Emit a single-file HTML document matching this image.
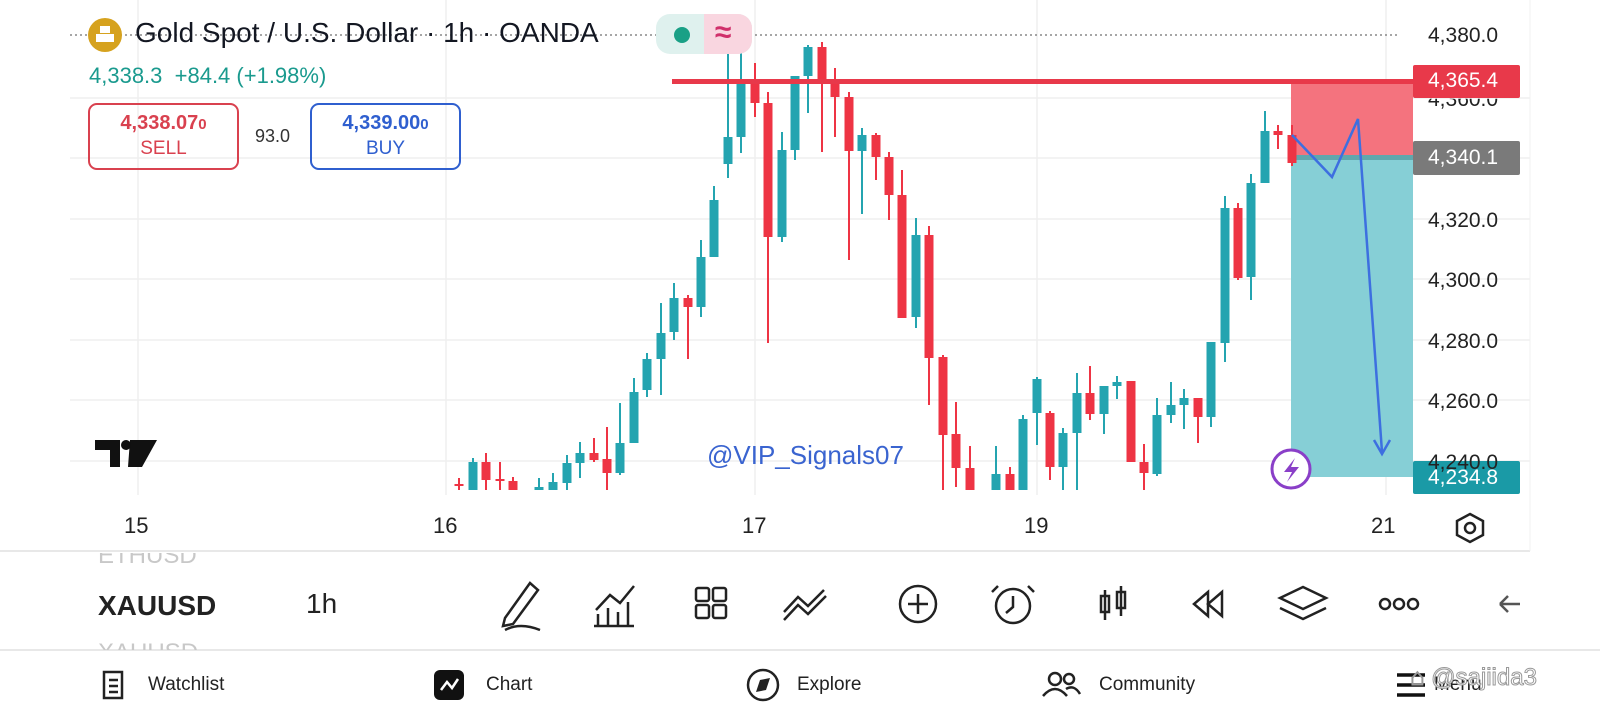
<!DOCTYPE html>
<html><head><meta charset="utf-8"><style>
body{margin:0;width:1600px;height:720px;background:#fff;overflow:hidden;font-family:"Liberation Sans",sans-serif;position:relative}
.a{position:absolute;white-space:nowrap}
</style></head><body>
<div class="a" style="left:1428px;top:88px;font-size:21px;color:#222">4,360.0</div>
<svg class="a" style="left:0;top:0" width="1600" height="720" viewBox="0 0 1600 720">
<g stroke="#efefef" stroke-width="1.5">
<line x1="70" y1="98" x2="1530" y2="98"/><line x1="70" y1="158" x2="1530" y2="158"/><line x1="70" y1="219" x2="1530" y2="219"/><line x1="70" y1="279" x2="1530" y2="279"/><line x1="70" y1="340" x2="1530" y2="340"/><line x1="70" y1="400" x2="1530" y2="400"/><line x1="70" y1="461" x2="1530" y2="461"/>
<line x1="138" y1="0" x2="138" y2="495"/><line x1="446" y1="0" x2="446" y2="495"/><line x1="755" y1="0" x2="755" y2="495"/><line x1="1037" y1="0" x2="1037" y2="495"/><line x1="1386" y1="0" x2="1386" y2="495"/>
</g>
<line x1="70" y1="35" x2="1400" y2="35" stroke="#888" stroke-width="1.5" stroke-dasharray="2,3"/>
<rect x="1291" y="81" width="122" height="77" fill="#f4737e"/>
<rect x="1291" y="158" width="122" height="319" fill="#86cfd6"/>
<rect x="1291" y="155" width="122" height="5" fill="#5fa7ad"/>
<g id="c"></g>
<rect x="672" y="79" width="741" height="5" fill="#e8394a"/>
<polyline points="1292,135 1332,177 1358,119 1382,452" fill="none" stroke="#3d6fe0" stroke-width="2.5"/>
<polyline points="1374,440 1382,454 1390,440" fill="none" stroke="#3d6fe0" stroke-width="2.5"/>
<circle cx="1291" cy="469" r="19" fill="#fff" stroke="#8a3fc8" stroke-width="3"/>
<path d="M1295 458 L1284 472 L1292 472 L1287 482 L1299 467 L1291 467 Z" fill="#8a3fc8"/>
<rect x="1413" y="65" width="107" height="33" fill="#e8394a" rx="2"/>
<rect x="1413" y="141" width="107" height="34" fill="#7a7a7a" rx="2"/>
<rect x="1413" y="461" width="107" height="33" fill="#1a9aa6" rx="2"/>
<line x1="0" y1="551" x2="1530" y2="551" stroke="#e0e0e0" stroke-width="1.5"/>
<line x1="1530" y1="0" x2="1530" y2="551" stroke="#f0f0f0" stroke-width="1"/>
<line x1="0" y1="650" x2="1600" y2="650" stroke="#e0e0e0" stroke-width="1.5"/>
<circle cx="105" cy="35" r="17" fill="#d6a21e"/>
<rect x="96" y="34" width="18" height="8" fill="#fff"/><rect x="100" y="26" width="10" height="7" fill="#fff"/>
<rect x="656" y="14" width="96" height="40" rx="14" fill="#dff1ee"/>
<path d="M704 14 H738 A14 14 0 0 1 752 28 V40 A14 14 0 0 1 738 54 H704 Z" fill="#f9d6e0"/>
<circle cx="682" cy="35" r="8" fill="#1aa086"/>
<path d="M95 440 H120 V467 H110 V450 H95 Z M130 440 H157 L142 467 H128 Z" fill="#111"/><circle cx="126" cy="445" r="5" fill="#111"/>
<g fill="none" stroke="#222" stroke-width="2.5">
<polygon points="1470,514 1483,521 1483,535 1470,542 1457,535 1457,521"/><circle cx="1470" cy="528" r="5"/>
<path d="M505 618 L530 583 L538 590 L513 624 L503 626 Z M505 630 Q520 622 540 630"/>
<path d="M596 610 L610 595 L620 603 L634 586 M598 625 V614 M608 625 V608 M618 625 V612 M628 625 V602 M594 626 H634"/>
<rect x="696" y="588" width="13" height="13" rx="2"/><rect x="713" y="588" width="13" height="13" rx="2"/><rect x="696" y="605" width="13" height="13" rx="2"/><rect x="713" y="605" width="13" height="13" rx="2"/>
<path d="M784 612 L798 597 L808 606 L824 590 M784 620 L798 605 L808 614 L826 596"/>
<circle cx="918" cy="604" r="18"/><path d="M918 594 V614 M908 604 H928"/>
<circle cx="1013" cy="606" r="17"/><path d="M1013 596 V607 L1006 613 M998 586 L992 592 M1028 586 L1034 592"/>
<path d="M1105 590 V620 M1121 586 V616"/><rect x="1101" y="596" width="8" height="16"/><rect x="1117" y="592" width="8" height="16"/>
<path d="M1208 592 L1194 604 L1208 616 Z M1222 592 L1208 604 L1222 616 Z"/>
<path d="M1303 587 L1326 598 L1303 609 L1280 598 Z M1280 608 L1303 619 L1326 608"/>
<circle cx="1385" cy="604" r="5"/><circle cx="1399" cy="604" r="5"/><circle cx="1413" cy="604" r="5"/>
<path d="M1500 604 H1520 M1500 604 L1508 596 M1500 604 L1508 612" stroke="#555"/>
<path d="M104 672 H122 V698 H104 Z M109 680 H118 M109 686 H118 M109 692 H118"/>
<circle cx="763" cy="685" r="15"/>
<circle cx="1055" cy="679" r="6"/><circle cx="1069" cy="679" r="5"/><path d="M1043 696 Q1055 682 1067 696 M1066 689 Q1074 684 1080 694"/>
<path d="M1397 675 H1425 M1397 685 H1425 M1397 695 H1425" stroke-width="3.5" stroke="#111"/>
</g>
<rect x="434" y="670" width="30" height="30" rx="6" fill="#111"/>
<path d="M441 690 L447 682 L452 688 L458 679" fill="none" stroke="#fff" stroke-width="2.5"/>
<path d="M770 678 L766 690 L756 692 L760 680 Z" fill="#222"/>
</svg>
<div class="a" style="left:135px;top:17px;font-size:28px;color:#131722">Gold Spot / U.S. Dollar · 1h · OANDA</div>
<div class="a" style="left:715px;top:16px;font-size:30px;color:#d0306b;font-weight:bold">≈</div>
<div class="a" style="left:89px;top:63px;font-size:22px;color:#1a9a8e">4,338.3 &nbsp;+84.4 (+1.98%)</div>
<div class="a" style="left:88px;top:103px;width:147px;height:63px;border:2px solid #d9414f;border-radius:9px;text-align:center;color:#d9414f">
<div style="font-size:20px;font-weight:bold;margin-top:7px">4,338.07<span style="font-size:15px">0</span></div><div style="font-size:19px;margin-top:3px">SELL</div></div>
<div class="a" style="left:255px;top:126px;font-size:18px;color:#333">93.0</div>
<div class="a" style="left:310px;top:103px;width:147px;height:63px;border:2px solid #2f5fcf;border-radius:9px;text-align:center;color:#2f5fcf">
<div style="font-size:20px;font-weight:bold;margin-top:7px">4,339.00<span style="font-size:15px">0</span></div><div style="font-size:19px;margin-top:3px">BUY</div></div>
<div class="a" style="left:707px;top:440px;font-size:26px;color:#3a64d0">@VIP_Signals07</div>
<div class="a" style="left:1428px;top:24px;font-size:21px;color:#222">4,380.0</div>
<div class="a" style="left:1428px;top:209px;font-size:21px;color:#222">4,320.0</div>
<div class="a" style="left:1428px;top:269px;font-size:21px;color:#222">4,300.0</div>
<div class="a" style="left:1428px;top:330px;font-size:21px;color:#222">4,280.0</div>
<div class="a" style="left:1428px;top:390px;font-size:21px;color:#222">4,260.0</div>
<div class="a" style="left:1428px;top:451px;font-size:21px;color:#222">4,240.0</div>
<div class="a" style="left:1428px;top:69px;font-size:21px;color:#fff">4,365.4</div>
<div class="a" style="left:1428px;top:146px;font-size:21px;color:#fff">4,340.1</div>
<div class="a" style="left:1428px;top:466px;font-size:21px;color:#fff">4,234.8</div>
<div class="a" style="left:124px;top:513px;font-size:22px;color:#222">15</div>
<div class="a" style="left:433px;top:513px;font-size:22px;color:#222">16</div>
<div class="a" style="left:742px;top:513px;font-size:22px;color:#222">17</div>
<div class="a" style="left:1024px;top:513px;font-size:22px;color:#222">19</div>
<div class="a" style="left:1371px;top:513px;font-size:22px;color:#222">21</div>
<div class="a" style="left:98px;top:553px;font-size:24px;color:#c8c8c8;height:16px;overflow:hidden;line-height:24px"><span style="position:relative;top:-9px">ETHUSD</span></div>
<div class="a" style="left:98px;top:590px;font-size:28px;color:#222;font-weight:bold">XAUUSD</div>
<div class="a" style="left:98px;top:638px;font-size:24px;color:#c8c8c8;height:12px;overflow:hidden;line-height:30px">XAUUSD</div>
<div class="a" style="left:306px;top:588px;font-size:28px;color:#222">1h</div>
<div class="a" style="left:148px;top:674px;font-size:19px;color:#222">Watchlist</div>
<div class="a" style="left:486px;top:674px;font-size:19px;color:#222">Chart</div>
<div class="a" style="left:797px;top:674px;font-size:19px;color:#222">Explore</div>
<div class="a" style="left:1099px;top:674px;font-size:19px;color:#222">Community</div>
<div class="a" style="left:1434px;top:674px;font-size:19px;color:#222">Menu</div>
<div class="a" style="left:1410px;top:664px;font-size:24px;color:#fff;-webkit-text-stroke:1px #999">⌂ @sajiida3</div>
<script>
var d=[[459,484,486,478,490,0],[473,462,490,458,490,1],[486,462,480,453,490,0],[500,479,481,462,490,0],[513,481,490,477,490,0],[539,487,490,478,490,1],[553,482,490,473,490,1],[567,463,483,455,490,1],[580,453,463,442,478,1],[594,453,460,438,462,0],[607,459,473,427,490,0],[620,443,473,403,475,1],[634,392,443,378,443,1],[647,359,390,353,397,1],[661,333,359,303,395,1],[674,298,332,283,340,1],[688,298,307,295,359,0],[701,257,307,240,317,1],[714,200,257,186,257,1],[728,137,164,40,178,1],[741,80,137,45,153,1],[755,80,103,63,117,0],[768,103,237,92,343,0],[782,150,237,132,242,1],[795,76,150,76,160,1],[808,47,76,45,113,1],[822,47,82,42,152,0],[835,82,97,68,137,0],[849,97,151,92,260,0],[862,135,151,128,214,1],[876,135,157,133,180,0],[889,157,195,152,220,0],[902,195,318,170,318,0],[916,235,317,218,328,1],[929,235,358,226,405,0],[943,357,435,355,490,0],[956,434,468,402,487,0],[970,468,490,446,490,0],[996,474,490,446,490,1],[1010,474,490,467,490,0],[1023,419,490,415,490,1],[1037,379,413,377,445,1],[1050,413,467,411,480,0],[1063,433,467,428,490,1],[1077,393,433,373,490,1],[1090,393,414,366,420,0],[1104,386,414,386,434,1],[1117,382,386,376,399,1],[1131,381,462,381,462,0],[1144,462,473,444,490,0],[1157,415,474,398,476,1],[1171,405,415,382,423,1],[1184,398,405,389,429,1],[1198,398,417,398,443,0],[1211,342,417,342,427,1],[1225,208,343,196,362,1],[1238,208,278,203,280,0],[1251,183,277,174,300,1],[1265,131,183,111,183,1],[1278,131,135,125,149,0],[1292,135,163,125,166,0]];
var s='';d.forEach(function(c){var col=c[5]?'#24a4b0':'#ee3444';s+='<rect x="'+(c[0]-1)+'" y="'+c[3]+'" width="2" height="'+(c[4]-c[3])+'" fill="'+col+'"/><rect x="'+(c[0]-4.5)+'" y="'+c[1]+'" width="9" height="'+Math.max(2,c[2]-c[1])+'" fill="'+col+'"/>';});
document.getElementById('c').innerHTML=s;
</script>
</body></html>
